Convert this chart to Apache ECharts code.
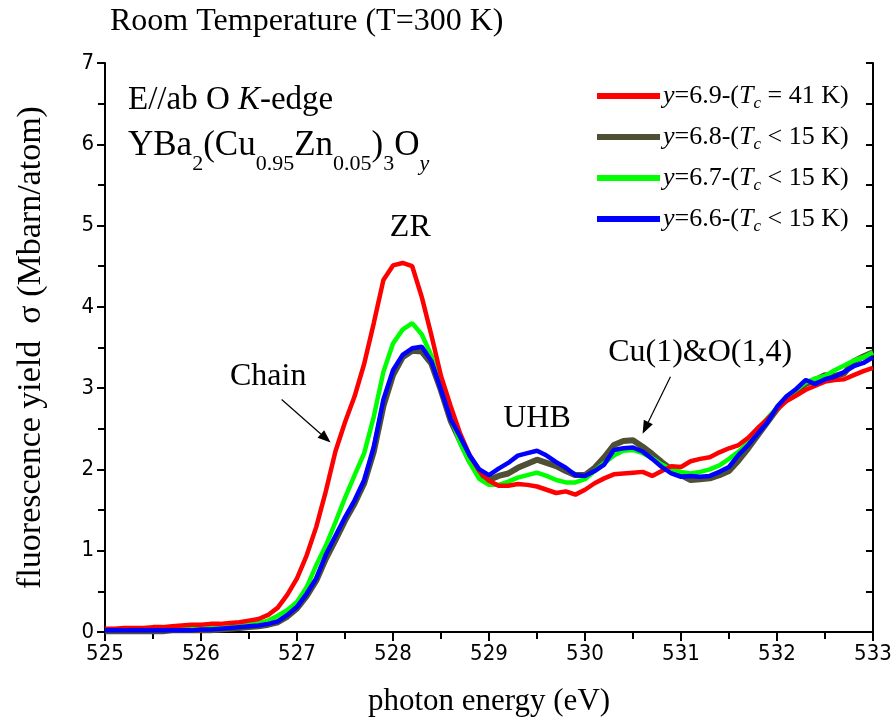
<!DOCTYPE html>
<html>
<head>
<meta charset="utf-8">
<script src="https://cdn.jsdelivr.net/npm/echarts@6/dist/echarts.min.js"></script>
<style>
html,body{margin:0;padding:0;background:#fff}
#chart{width:896px;height:724px}
</style>
</head>
<body>
<div id="chart"></div>
<script>
// Photon energy grid (eV)
const energy = [
  525.0,525.1,525.2,525.3,525.4,525.5,525.6,525.7,525.8,525.9,
  526.0,526.1,526.2,526.3,526.4,526.5,526.6,526.7,526.8,526.9,
  527.0,527.1,527.2,527.3,527.4,527.5,527.6,527.7,527.8,527.9,
  528.0,528.1,528.2,528.3,528.4,528.5,528.6,528.7,528.8,528.9,
  529.0,529.1,529.2,529.3,529.4,529.5,529.6,529.7,529.8,529.9,
  530.0,530.1,530.2,530.3,530.4,530.5,530.6,530.7,530.8,530.9,
  531.0,531.1,531.2,531.3,531.4,531.5,531.6,531.7,531.8,531.9,
  532.0,532.1,532.2,532.3,532.4,532.5,532.6,532.7,532.8,532.9,
  533.0
];

// Fluorescence yield sigma (Mbarn/atom), y = 6.9
const sigmaY69 = [
  0.04,0.04,0.05,0.05,0.05,0.06,0.06,0.07,0.08,0.09,
  0.09,0.10,0.10,0.11,0.12,0.14,0.16,0.21,0.30,0.46,
  0.66,0.94,1.29,1.73,2.22,2.58,2.90,3.30,3.80,4.33,
  4.51,4.54,4.50,4.12,3.65,3.15,2.78,2.44,2.17,1.98,
  1.86,1.80,1.80,1.82,1.81,1.79,1.75,1.71,1.73,1.69,
  1.75,1.83,1.89,1.94,1.95,1.96,1.97,1.92,1.98,2.04,
  2.03,2.10,2.13,2.15,2.21,2.26,2.30,2.39,2.51,2.62,
  2.74,2.84,2.91,2.98,3.03,3.08,3.10,3.11,3.16,3.21,
  3.25
];

// y = 6.8
const sigmaY68 = [
  0.01,0.01,0.01,0.01,0.01,0.01,0.01,0.02,0.02,0.02,
  0.02,0.02,0.03,0.04,0.05,0.06,0.07,0.09,0.12,0.19,
  0.29,0.44,0.63,0.90,1.13,1.37,1.58,1.83,2.22,2.78,
  3.16,3.38,3.46,3.45,3.30,2.97,2.60,2.35,2.10,1.94,
  1.87,1.92,1.95,2.02,2.07,2.12,2.08,2.04,1.98,1.93,
  1.93,2.02,2.15,2.30,2.35,2.36,2.28,2.19,2.09,2.00,
  1.93,1.87,1.88,1.89,1.93,1.98,2.11,2.26,2.42,2.58,
  2.74,2.88,2.97,3.05,3.10,3.16,3.15,3.18,3.33,3.39,
  3.44
];

// y = 6.7
const sigmaY67 = [
  0.03,0.03,0.03,0.03,0.03,0.03,0.03,0.04,0.04,0.04,
  0.04,0.05,0.05,0.06,0.07,0.09,0.11,0.14,0.20,0.27,
  0.37,0.55,0.82,1.06,1.35,1.65,1.93,2.20,2.65,3.20,
  3.55,3.72,3.80,3.66,3.40,3.02,2.65,2.32,2.08,1.88,
  1.81,1.81,1.85,1.90,1.93,1.96,1.92,1.87,1.84,1.84,
  1.88,1.98,2.08,2.17,2.23,2.24,2.20,2.14,2.06,2.00,
  1.97,1.95,1.97,2.00,2.05,2.13,2.22,2.33,2.48,2.63,
  2.76,2.89,2.98,3.07,3.12,3.15,3.22,3.28,3.34,3.38,
  3.44
];

// y = 6.6
const sigmaY66 = [
  0.02,0.02,0.02,0.02,0.02,0.02,0.02,0.02,0.02,0.02,
  0.03,0.03,0.04,0.05,0.06,0.07,0.08,0.10,0.13,0.21,
  0.31,0.47,0.66,0.95,1.18,1.41,1.62,1.87,2.28,2.86,
  3.22,3.41,3.49,3.51,3.33,2.98,2.62,2.40,2.17,2.00,
  1.93,2.01,2.08,2.17,2.20,2.23,2.17,2.09,2.02,1.93,
  1.92,1.98,2.06,2.24,2.26,2.27,2.22,2.13,2.03,1.95,
  1.91,1.92,1.91,1.92,1.97,2.03,2.18,2.30,2.44,2.58,
  2.77,2.90,2.99,3.10,3.05,3.11,3.14,3.20,3.27,3.31,
  3.38
];

const seriesNames = ['y=6.9-(Tc = 41 K)', 'y=6.8-(Tc < 15 K)', 'y=6.7-(Tc < 15 K)', 'y=6.6-(Tc < 15 K)'];
const legendRich = [
  '{i|y}{n|=6.9-(}{i|T}{s|c}{n| = 41 K)}',
  '{i|y}{n|=6.8-(}{i|T}{s|c}{n| < 15 K)}',
  '{i|y}{n|=6.7-(}{i|T}{s|c}{n| < 15 K)}',
  '{i|y}{n|=6.6-(}{i|T}{s|c}{n| < 15 K)}'
];
const seriesColors = ['#ff0000', '#4f4f33', '#00ff00', '#0000ff'];

// Annotation labels in data coordinates
const peakLabels = [
  { text: 'ZR', at: [528.18, 4.97] },
  { text: 'Chain', at: [526.70, 3.14] },
  { text: 'UHB', at: [529.50, 2.63] },
  { text: 'Cu(1)&O(1,4)', at: [531.20, 3.44] }
];
const arrows = [
  { from: [526.84, 2.86], to: [527.35, 2.33] },
  { from: [530.89, 3.14], to: [530.60, 2.44] }
];

const SERIF = "'Liberation Serif', 'Times New Roman', Times, serif";
const SANS = "'Liberation Sans Narrow', 'DejaVu Sans Condensed', 'Liberation Sans', Arial, sans-serif";

const chart = echarts.init(document.getElementById('chart'), null, { renderer: 'canvas' });

function pairs(vals) { return energy.map((e, i) => [e, vals[i]]); }

const axisLine = { show: true, lineStyle: { color: '#000', width: 2 } };

const option = {
  backgroundColor: '#fff',
  animation: false,
  grid: { left: 105, right: 23, top: 63, bottom: 92 },
  xAxis: [
    {
      type: 'value', min: 525, max: 533, interval: 1, position: 'bottom',
      name: 'photon energy (eV)', nameLocation: 'middle', nameGap: 54,
      nameTextStyle: { fontFamily: SERIF, fontSize: 31, color: '#000' },
      axisLine: axisLine,
      axisTick: { show: true, length: 9, lineStyle: { color: '#000', width: 2 } },
      minorTick: { show: true, splitNumber: 2, length: 6, lineStyle: { color: '#000', width: 2 } },
      axisLabel: { color: '#000', fontFamily: SANS, fontSize: 22, margin: 11 },
      splitLine: { show: false }
    },
    {
      type: 'value', min: 525, max: 533, interval: 0.5, position: 'top',
      axisLine: axisLine,
      axisTick: { show: true, inside: true, length: 7, lineStyle: { color: '#000', width: 2 } },
      axisLabel: { show: false },
      splitLine: { show: false }
    }
  ],
  yAxis: [
    {
      type: 'value', min: 0, max: 7, interval: 1, position: 'left',
      name: 'fluorescence yield  σ (Mbarn/atom)', nameLocation: 'middle', nameGap: 57,
      nameTextStyle: { fontFamily: SERIF, fontSize: 34, color: '#000' },
      axisLine: axisLine,
      axisTick: { show: true, length: 8, lineStyle: { color: '#000', width: 2 } },
      minorTick: { show: true, splitNumber: 2, length: 7, lineStyle: { color: '#000', width: 2 } },
      axisLabel: { color: '#000', fontFamily: SANS, fontSize: 22, margin: 11 },
      splitLine: { show: false }
    },
    {
      type: 'value', min: 0, max: 7, interval: 0.5, position: 'right',
      axisLine: axisLine,
      axisTick: { show: true, inside: true, length: 7, lineStyle: { color: '#000', width: 2 } },
      axisLabel: { show: false },
      splitLine: { show: false }
    }
  ],
  legend: {
    orient: 'vertical', left: 592, top: 78,
    data: seriesNames,
    icon: 'rect', itemWidth: 63, itemHeight: 6, itemGap: 12,
    formatter: name => legendRich[seriesNames.indexOf(name)],
    textStyle: {
      color: '#000', padding: [0, 0, 0, -2],
      rich: {
        n: { fontFamily: SERIF, fontSize: 26, color: '#000', lineHeight: 32, verticalAlign: 'middle' },
        i: { fontFamily: SERIF, fontSize: 26, fontStyle: 'italic', color: '#000', lineHeight: 32, verticalAlign: 'middle' },
        s: { fontFamily: SERIF, fontSize: 17, fontStyle: 'italic', color: '#000', lineHeight: 17, verticalAlign: 'bottom', padding: [0, 0, 0, 0] }
      }
    }
  },
  series: [
    { name: seriesNames[1], type: 'line', data: pairs(sigmaY68), showSymbol: false, color: seriesColors[1], lineStyle: { width: 6, color: seriesColors[1] } },
    { name: seriesNames[2], type: 'line', data: pairs(sigmaY67), showSymbol: false, color: seriesColors[2], lineStyle: { width: 4.5, color: seriesColors[2] } },
    { name: seriesNames[0], type: 'line', data: pairs(sigmaY69), showSymbol: false, color: seriesColors[0], lineStyle: { width: 4.5, color: seriesColors[0] } },
    { name: seriesNames[3], type: 'line', data: pairs(sigmaY66), showSymbol: false, color: seriesColors[3], lineStyle: { width: 4.5, color: seriesColors[3] } }
  ]
};

chart.setOption(option);

function arrowGraphic(a) {
  const p0 = chart.convertToPixel({ gridIndex: 0 }, a.from);
  const p1 = chart.convertToPixel({ gridIndex: 0 }, a.to);
  const dx = p1[0] - p0[0], dy = p1[1] - p0[1];
  const len = Math.sqrt(dx * dx + dy * dy);
  const ux = dx / len, uy = dy / len;
  const headLen = 13, headW = 5;
  const bx = p1[0] - ux * headLen, by = p1[1] - uy * headLen;
  return [
    { type: 'line', shape: { x1: p0[0], y1: p0[1], x2: bx, y2: by }, style: { stroke: '#000', lineWidth: 1.2 } },
    { type: 'polygon', shape: { points: [[p1[0], p1[1]], [bx - uy * headW, by + ux * headW], [bx + uy * headW, by - ux * headW]] }, style: { fill: '#000' } }
  ];
}

const graphics = [
  { type: 'text', left: 110, top: 6, style: { text: 'Room Temperature (T=300 K)', font: '32px ' + SERIF, fill: '#000' } },
  {
    type: 'text', left: 128, top: 84,
    style: {
      text: '{n|E//ab O }{i|K}{n|-edge}',
      rich: {
        n: { fontFamily: SERIF, fontSize: 33, fill: '#000' },
        i: { fontFamily: SERIF, fontSize: 33, fontStyle: 'italic', fill: '#000' }
      }
    }
  },
  {
    type: 'text', left: 128, top: 126,
    style: {
      text: '{n|YBa}{s|2}{n|(Cu}{s|0.95}{n|Zn}{s|0.05}{n|)}{s|3}{n|O}{si|y}',
      rich: {
        n: { fontFamily: SERIF, fontSize: 35, fill: '#000', lineHeight: 49, verticalAlign: 'top', padding: [2, 0, 0, 0] },
        s: { fontFamily: SERIF, fontSize: 22, fill: '#000', lineHeight: 22, verticalAlign: 'bottom' },
        si: { fontFamily: SERIF, fontSize: 22, fontStyle: 'italic', fill: '#000', lineHeight: 22, verticalAlign: 'bottom' }
      }
    }
  }
];

peakLabels.forEach(l => {
  const p = chart.convertToPixel({ gridIndex: 0 }, l.at);
  graphics.push({ type: 'text', x: p[0], y: p[1], style: { text: l.text, font: '32px ' + SERIF, fill: '#000', align: 'center', verticalAlign: 'middle' } });
});
arrows.forEach(a => { arrowGraphic(a).forEach(g => graphics.push(g)); });

chart.setOption({ graphic: graphics });
</script>
</body>
</html>
